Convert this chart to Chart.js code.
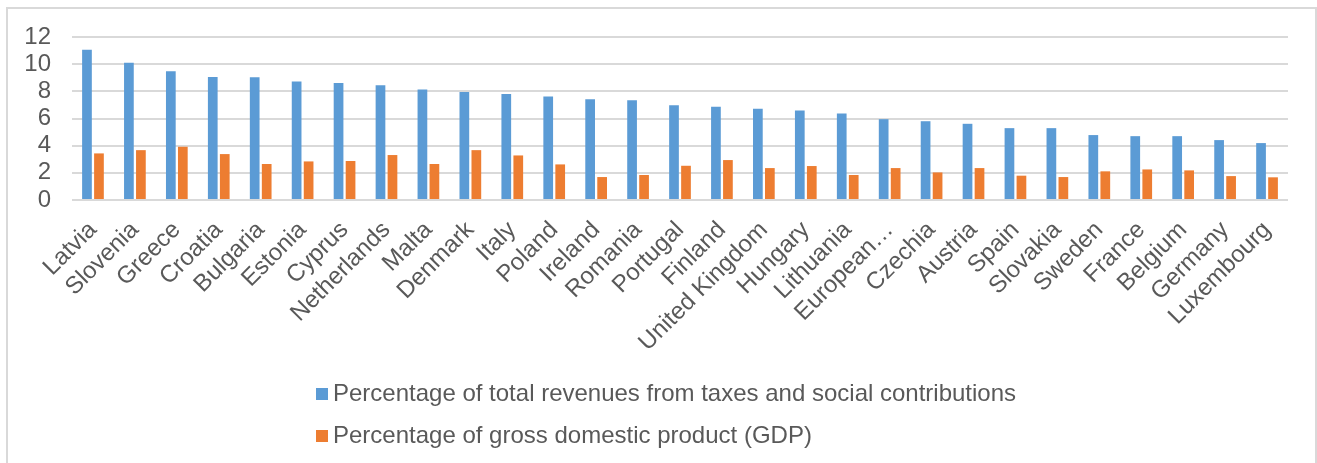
<!DOCTYPE html>
<html>
<head>
<meta charset="utf-8">
<script src="https://cdn.jsdelivr.net/npm/chart.js@4"></script>
<style>
  html, body { margin: 0; padding: 0; background: #ffffff; }
  #wrap { position: relative; width: 1317px; height: 463px; }
</style>
</head>
<body>
<div id="wrap"><canvas id="c" width="1317" height="463"></canvas></div>
<script>
const categories = ["Latvia","Slovenia","Greece","Croatia","Bulgaria","Estonia","Cyprus","Netherlands","Malta","Denmark","Italy","Poland","Ireland","Romania","Portugal","Finland","United Kingdom","Hungary","Lithuania","European…","Czechia","Austria","Spain","Slovakia","Sweden","France","Belgium","Germany","Luxembourg"];
const revenueShare = [11.07,10.11,9.48,9.06,9.04,8.72,8.62,8.45,8.13,7.96,7.81,7.62,7.42,7.35,6.98,6.86,6.71,6.59,6.37,5.95,5.80,5.61,5.29,5.29,4.78,4.70,4.70,4.41,4.19];
const gdpShare = [3.43,3.67,3.92,3.38,2.65,2.84,2.87,3.31,2.65,3.67,3.28,2.62,1.69,1.84,2.52,2.94,2.35,2.50,1.84,2.35,2.03,2.35,1.79,1.69,2.11,2.25,2.18,1.76,1.67];
const seriesNames = ["Percentage of total revenues from taxes and social contributions","Percentage of gross domestic product (GDP)"];
const yTicks = [0,2,4,6,8,10,12];

const FONT = '"Liberation Sans", Arial, sans-serif';
const TEXT = '#595959';

const frame = {
  id: 'frame',
  beforeDraw(chart) {
    const ctx = chart.ctx;
    ctx.save();
    ctx.fillStyle = '#ffffff';
    ctx.fillRect(0, 0, chart.width, chart.height);
    ctx.strokeStyle = '#d9d9d9';
    ctx.lineWidth = 2;
    ctx.strokeRect(7, 8, 1309, 520);
    ctx.restore();
  }
};

const customLegend = {
  id: 'customLegend',
  afterDraw(chart) {
    const ctx = chart.ctx;
    ctx.save();
    ctx.font = '24px ' + FONT;
    ctx.textBaseline = 'middle';
    ctx.textAlign = 'left';
    const rows = [394, 436];
    chart.data.datasets.forEach((ds, i) => {
      const y = rows[i];
      ctx.fillStyle = ds.backgroundColor;
      ctx.fillRect(316, y - 6, 12, 12);
      ctx.fillStyle = TEXT;
      ctx.fillText(ds.label, 333, y);
    });
    ctx.restore();
  }
};

new Chart(document.getElementById('c'), {
  type: 'bar',
  data: {
    labels: categories,
    datasets: [
      { label: seriesNames[0], data: revenueShare, backgroundColor: '#5B9BD5', categoryPercentage: 0.572, barPercentage: 0.81 },
      { label: seriesNames[1], data: gdpShare, backgroundColor: '#ED7D31', categoryPercentage: 0.572, barPercentage: 0.81 }
    ]
  },
  options: {
    responsive: false,
    animation: false,
    layout: { padding: { left: 0, right: 29, top: 37, bottom: 0 } },
    plugins: {
      legend: { display: false },
      tooltip: { enabled: false }
    },
    scales: {
      x: {
        grid: { display: false, drawTicks: false },
        border: { display: false },
        ticks: {
          autoSkip: false, maxRotation: 45, minRotation: 45,
          padding: 16,
          color: TEXT,
          font: { family: FONT, size: 24 }
        },
        afterFit(s) { s.height = 263; }
      },
      y: {
        min: 0, max: 12,
        afterBuildTicks(s) { s.ticks = yTicks.map(v => ({ value: v })); },
        grid: { color: '#d9d9d9', lineWidth: 2, drawTicks: false },
        border: { display: false },
        ticks: {
          autoSkip: false,
          padding: 21,
          color: TEXT,
          font: { family: FONT, size: 24 }
        },
        afterFit(s) { s.width = 72; }
      }
    }
  },
  plugins: [frame, customLegend]
});
</script>
</body>
</html>
